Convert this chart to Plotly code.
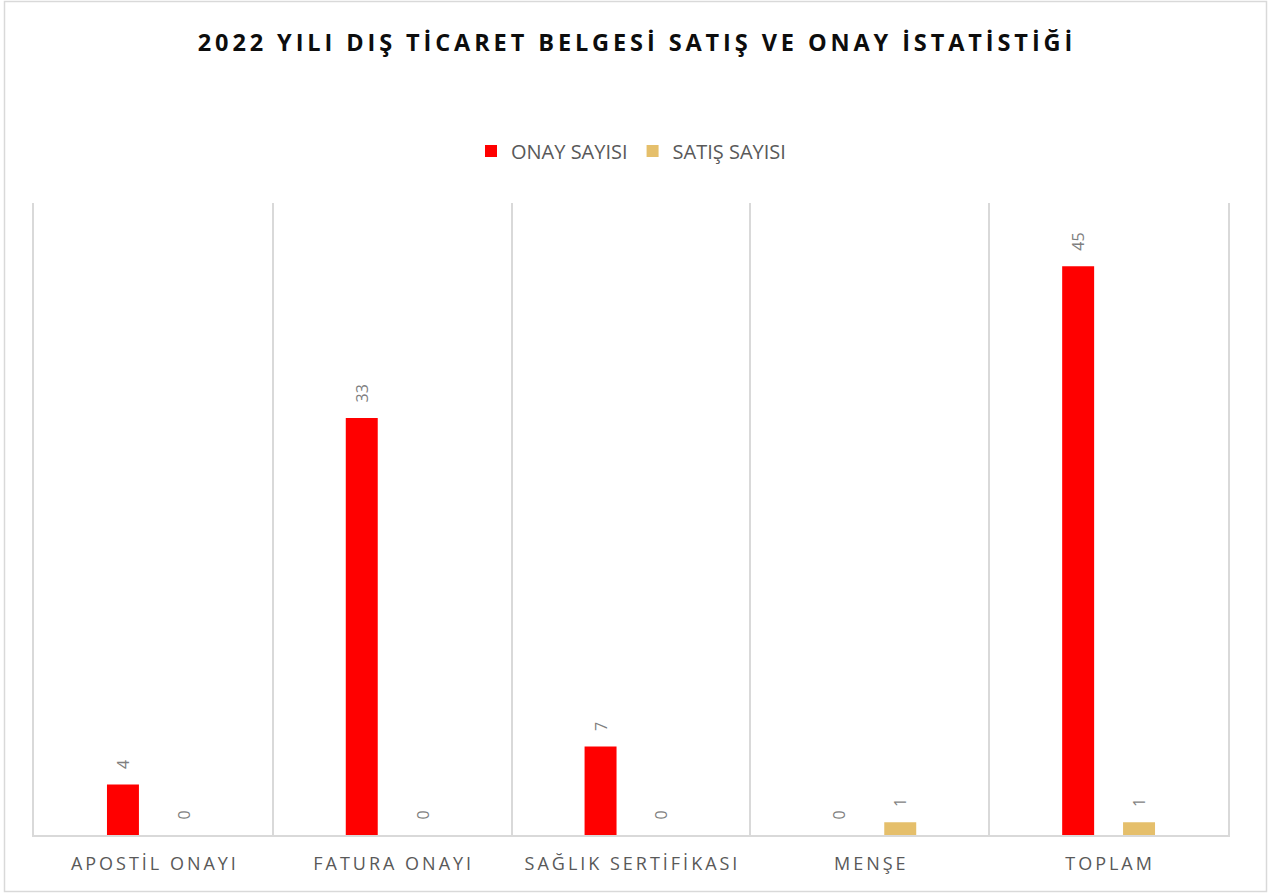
import plotly.graph_objects as go

categories = ["APOSTİL ONAYI", "FATURA ONAYI", "SAĞLIK SERTİFİKASI", "MENŞE", "TOPLAM"]
onay_sayisi = [4, 33, 7, 0, 45]
satis_sayisi = [0, 0, 0, 1, 1]
series_names = ["ONAY SAYISI", "SATIŞ SAYISI"]
title_text = "2022 YILI DIŞ TİCARET BELGESİ SATIŞ VE ONAY İSTATİSTİĞİ"

def spaced(s, sep="\u2009"):
    return sep.join(list(s))

label_font = dict(color="#7F7F7F", size=16, family="Open Sans")
pad = "\u00a0\u00a0\u00a0"

fig = go.Figure()
fig.add_trace(go.Bar(
    x=categories, y=onay_sayisi, name=series_names[0],
    marker=dict(color="#FF0000", line=dict(width=0)),
    texttemplate=pad + "%{y}", textposition="outside", textangle=-90,
    textfont=label_font, cliponaxis=False,
))
fig.add_trace(go.Bar(
    x=categories, y=satis_sayisi, name=series_names[1],
    marker=dict(color="#E5BF6B", line=dict(width=0)),
    texttemplate=pad + "%{y}", textposition="outside", textangle=-90,
    textfont=label_font, cliponaxis=False,
))

L, R, T, B = 34, 42, 203, 58
W, H = 1270, 893
pw, ph = W - L - R, H - T - B

def px_x(x):
    return (x - L) / pw

def px_y(y):
    return (H - B - y) / ph

fig.update_layout(
    width=W, height=H,
    margin=dict(l=L, r=R, t=T, b=B),
    paper_bgcolor="white", plot_bgcolor="white",
    barmode="group", bargap=0.49, bargroupgap=0.475,
    font=dict(family="Open Sans", color="#595959"),
    title=dict(
        text="<b>" + spaced(title_text) + "</b>",
        x=0.5, xanchor="center", y=1 - 43 / H, yanchor="middle",
        font=dict(size=23.5, color="#0D0D0D", family="Open Sans"),
    ),
    legend=dict(
        orientation="h", x=0.5, xanchor="center",
        y=px_y(151), yanchor="middle",
        font=dict(size=20, color="#595959", family="Open Sans"),
        itemwidth=30, traceorder="normal",
    ),
    xaxis=dict(
        tickson="boundaries", showgrid=True, gridcolor="#D9D9D9", gridwidth=2,
        showline=True, linecolor="#D9D9D9", linewidth=2,
        ticks="", tickvals=categories, ticktext=[spaced(c) for c in categories],
        tickfont=dict(size=18, color="#595959", family="Open Sans"),
        ticklabelstandoff=11,
        range=[-0.5, 4.5],
    ),
    yaxis=dict(
        range=[0, 50], showgrid=False, zeroline=False, showticklabels=False, ticks="",
        showline=True, mirror=True, linecolor="#D9D9D9", linewidth=2,
    ),
    shapes=[
        dict(type="rect", xref="paper", yref="paper",
             x0=px_x(4.5), x1=px_x(1266.5), y0=px_y(891.5), y1=px_y(1.5),
             line=dict(color="#D9D9D9", width=1.5), layer="below"),
    ],
)

fig.write_html("out.html", config={"displayModeBar": False},
               post_script="document.body.style.margin='0';")
